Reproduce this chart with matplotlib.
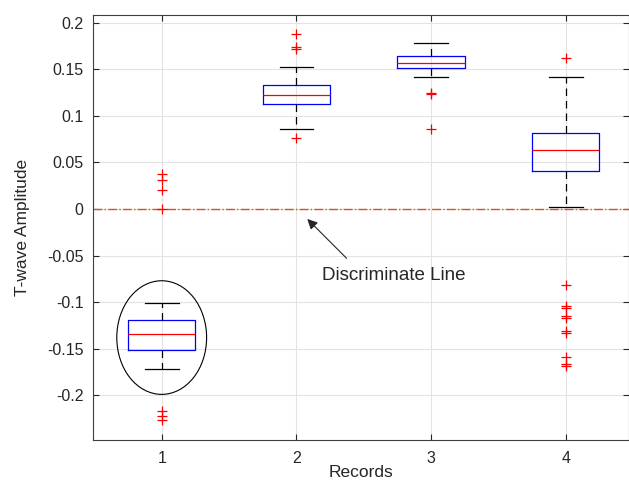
import matplotlib
matplotlib.use('Agg')
import matplotlib.pyplot as plt
from matplotlib.patches import Ellipse

plt.rcParams['font.family'] = ['Liberation Sans', 'DejaVu Sans']

# box statistics
records = [1, 2, 3, 4]
whis_lo = [-0.172, 0.086, 0.142, 0.002]
q1 = [-0.151, 0.1127, 0.151, 0.0407]
med = [-0.134, 0.1224, 0.157, 0.063]
q3 = [-0.119, 0.133, 0.1638, 0.0817]
whis_hi = [-0.101, 0.153, 0.178, 0.142]
fliers = [
    [0.038, 0.031, 0.020, 0.0, -0.217, -0.222, -0.227],
    [0.188, 0.174, 0.172, 0.076],
    [0.125, 0.124, 0.0864],
    [0.162, -0.082, -0.104, -0.106, -0.115, -0.117, -0.131, -0.133, -0.159, -0.166, -0.168],
]

stats = []
for i in range(len(records)):
    stats.append(dict(med=med[i], q1=q1[i], q3=q3[i], whislo=whis_lo[i],
                      whishi=whis_hi[i], fliers=fliers[i]))

fig = plt.figure(figsize=(6.29, 4.83), dpi=100)
ax = fig.add_axes([0.1483, 0.089, 0.8517, 0.8805])

ax.bxp(stats, positions=records, widths=0.5, showfliers=True,
       boxprops=dict(color='blue', linewidth=0.9),
       medianprops=dict(color='red', linewidth=0.9),
       whiskerprops=dict(color='black', linewidth=0.9, linestyle=(0, (6, 4))),
       capprops=dict(color='black', linewidth=0.9),
       capwidths=0.25,
       flierprops=dict(marker='+', markeredgecolor='red', markersize=7,
                       linestyle='none', markeredgewidth=0.9))

# discriminate line
ax.axhline(0, color='#D95319', linestyle='-.', linewidth=1.0, zorder=1)

ax.add_patch(Ellipse((1, -0.138), 0.667, 0.122, fill=False, edgecolor='black', linewidth=0.8))

ax.annotate('', xy=(2.081, -0.0107), xytext=(2.373, -0.0529),
            arrowprops=dict(arrowstyle='-|>', color='#262626', lw=0.8,
                            shrinkA=0, shrinkB=0, mutation_scale=15))
ax.text(2.192, -0.0715, 'Discriminate Line', fontsize=13.5, color='#262626',
        va='center', ha='left')

ax.set_xlim(0.492, 4.47)
ax.set_ylim(-0.248, 0.2086)
ax.set_xticks(records)
ax.set_xticklabels([str(r) for r in records])
ax.set_yticks([-0.2, -0.15, -0.1, -0.05, 0, 0.05, 0.1, 0.15, 0.2])
ax.set_yticklabels(['-0.2', '-0.15', '-0.1', '-0.05', '0', '0.05', '0.1', '0.15', '0.2'])
ax.grid(True, color='#e3e3e3', linewidth=0.8)
ax.set_axisbelow(True)
ax.tick_params(direction='in', top=True, right=True, labelsize=11.5, colors='#262626', length=4)
ax.tick_params(axis='x', pad=8)
ax.tick_params(axis='y', pad=7)
for s in ax.spines.values():
    s.set_color('#404040')
    s.set_linewidth(0.8)

ax.set_xlabel('Records', fontsize=12.5, color='#262626', labelpad=-1)
ax.set_ylabel('T-wave Amplitude', fontsize=12.5, color='#262626', labelpad=12)

fig.savefig('out.png', dpi=100)
